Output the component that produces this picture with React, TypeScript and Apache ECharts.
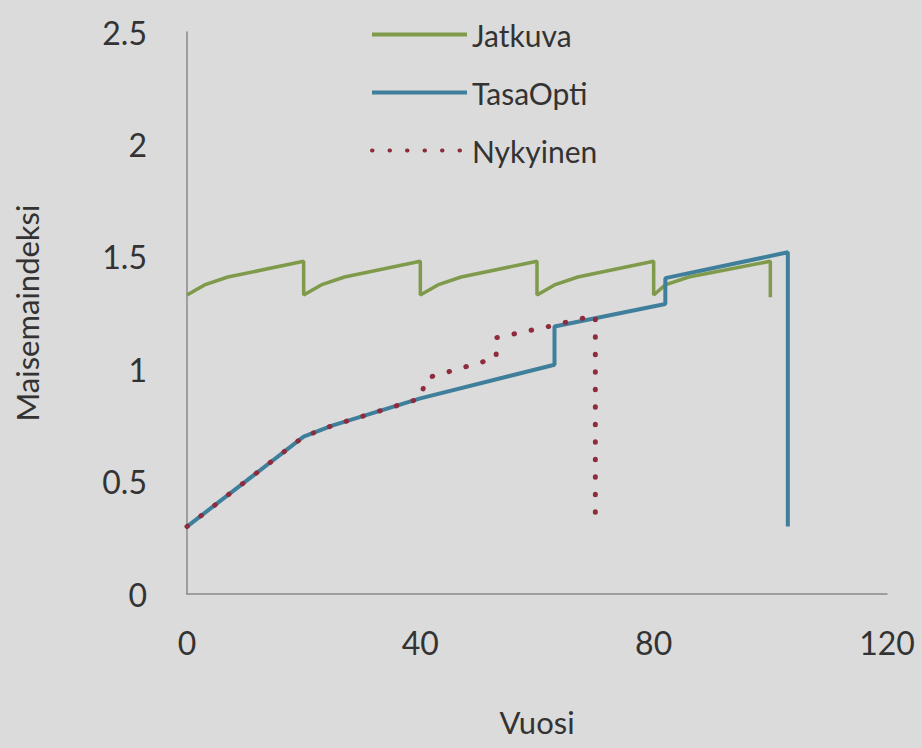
import React, { useEffect, useRef } from "react";
import * as echarts from "echarts";

// Jatkuva (continuous cover) series
const jatkuvaYears = [0, 3, 7, 20, 20, 23, 27, 40, 40, 43, 47, 60, 60, 63, 67, 80, 80, 82, 86, 100, 100];
const jatkuvaValues = [1.33, 1.375, 1.41, 1.48, 1.33, 1.375, 1.41, 1.48, 1.33, 1.375, 1.41, 1.48, 1.33, 1.375, 1.41, 1.48, 1.33, 1.375, 1.41, 1.48, 1.32];

// TasaOpti series
const tasaOptiYears = [0, 10, 20, 25, 30, 35, 40, 63, 63, 82, 82, 103, 103];
const tasaOptiValues = [0.3, 0.5, 0.7, 0.75, 0.79, 0.83, 0.87, 1.02, 1.19, 1.29, 1.405, 1.52, 0.3];

// Nykyinen series
const nykyinenYears = [0, 10, 20, 25, 30, 35, 40, 41, 53, 53, 62, 70, 70];
const nykyinenValues = [0.3, 0.5, 0.7, 0.75, 0.79, 0.83, 0.87, 0.96, 1.05, 1.14, 1.19, 1.24, 0.32];

const seriesNames = ["Jatkuva", "TasaOpti", "Nykyinen"];
const xAxisTitle = "Vuosi";
const yAxisTitle = "Maisemaindeksi";

const pairs = (xs: number[], ys: number[]) => xs.map((x, i) => [x, ys[i]]);

const FONT = "Lato";
const TEXT = "#333333";

export default function App() {
  const ref = useRef<HTMLDivElement>(null);
  useEffect(() => {
    document.body.style.margin = "0";
    document.body.style.background = "#dbdbdb";
    const chart = echarts.init(ref.current!, null, { renderer: "svg" });
    chart.setOption({
      animation: false,
      backgroundColor: "#dbdbdb",
      textStyle: { fontFamily: FONT, color: TEXT },
      grid: { left: 187, right: 35, top: 32, bottom: 154, containLabel: false },
      legend: {
        orient: "vertical",
        left: 365,
        top: 14,
        itemWidth: 95,
        itemHeight: 20,
        itemGap: 27,
        data: seriesNames,
        itemStyle: { opacity: 0 },
        lineStyle: { width: 4 },
        textStyle: { fontFamily: FONT, fontSize: 30, color: TEXT, lineHeight: 31 },
      },
      xAxis: {
        type: "value",
        min: 0,
        max: 120,
        interval: 40,
        name: xAxisTitle,
        nameLocation: "middle",
        nameGap: 112,
        nameTextStyle: { fontFamily: FONT, fontSize: 31, color: TEXT },
        axisLine: { show: true, lineStyle: { color: "#8a8a8a", width: 1.5 } },
        axisTick: { show: false },
        splitLine: { show: false },
        axisLabel: { fontFamily: FONT, fontSize: 32, color: TEXT, margin: 32 },
      },
      yAxis: {
        type: "value",
        min: 0,
        max: 2.5,
        interval: 0.5,
        name: yAxisTitle,
        nameLocation: "middle",
        nameGap: 145,
        nameRotate: 90,
        nameTextStyle: { fontFamily: FONT, fontSize: 31, color: TEXT },
        axisLine: { show: true, lineStyle: { color: "#8a8a8a", width: 1.5 } },
        axisTick: { show: false },
        splitLine: { show: false },
        axisLabel: { fontFamily: FONT, fontSize: 32, color: TEXT, margin: 40 },
      },
      series: [
        {
          name: seriesNames[0],
          type: "line",
          data: pairs(jatkuvaYears, jatkuvaValues),
          symbol: "none",
          lineStyle: { color: "#7e9a4a", width: 3.5 },
          itemStyle: { color: "#7e9a4a" },
          z: 2,
        },
        {
          name: seriesNames[1],
          type: "line",
          data: pairs(tasaOptiYears, tasaOptiValues),
          symbol: "none",
          lineStyle: { color: "#3f7f9c", width: 4 },
          itemStyle: { color: "#3f7f9c" },
          z: 3,
        },
        {
          name: seriesNames[2],
          type: "line",
          data: pairs(nykyinenYears, nykyinenValues),
          symbol: "none",
          lineStyle: { color: "#8e2b3c", width: 5, type: [0.5, 17], cap: "round" },
          itemStyle: { color: "#8e2b3c" },
          z: 4,
        },
      ],
    });
    return () => chart.dispose();
  }, []);
  return (
    <div
      ref={ref}
      style={{ position: "absolute", left: 0, top: 0, width: 922, height: 748 }}
    />
  );
}
